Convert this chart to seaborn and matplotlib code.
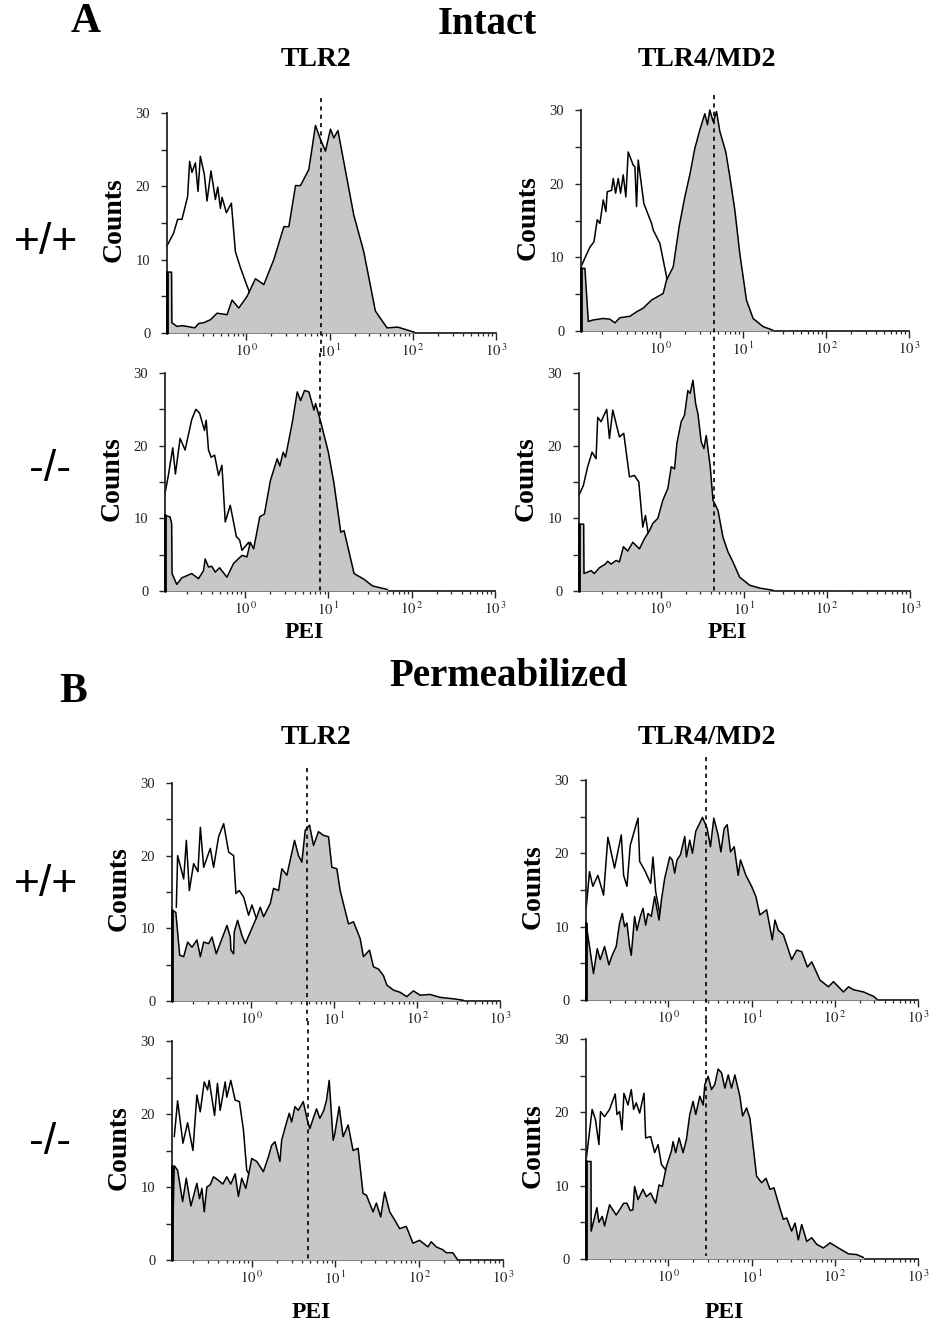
import numpy as np
import pandas as pd
import matplotlib
matplotlib.use("Agg")
import matplotlib.pyplot as plt
import matplotlib.transforms as mtransforms
from matplotlib.ticker import FixedLocator, FixedFormatter, LogLocator, NullFormatter
import seaborn as sns

sns.set_style("ticks")
plt.rcParams['font.family'] = ['Liberation Serif', 'DejaVu Serif']
plt.rcParams['mathtext.fontset'] = 'stix'
plt.rcParams['text.color'] = 'black'

# ---- data: log10(PEI) positions and counts ----
# A, intact, TLR2 +/+
int_tlr2_wt_ctrl_lx = [-0.96, -0.936, -0.876, -0.827, -0.775, -0.707, -0.683, -0.655, -0.614, -0.582, -0.554, -0.506, -0.474,
                       -0.426, -0.373, -0.345, -0.313, -0.293, -0.241, -0.181, -0.133, -0.072, 0.008, 0.09, 0.21, 0.33]
int_tlr2_wt_ctrl_ct = [11.8, 12.3, 13.6, 15.5, 15.5, 18.6, 23.4, 21.9, 23.2, 19.3, 24.1, 21.6, 18.0,
                       22.1, 18.2, 19.9, 17.0, 18.5, 16.4, 17.7, 11.1, 8.9, 6.4, 4.0, 1.5, 0.3]
int_tlr2_wt_pos_lx = [-0.955, -0.9, -0.896, -0.835, -0.775, -0.715, -0.62, -0.574, -0.514, -0.434, -0.353, -0.233, -0.173,
                      -0.092, 0.008, 0.108, 0.209, 0.329, 0.45, 0.51, 0.59, 0.65, 0.75, 0.83, 0.89, 0.95, 1.01, 1.05,
                      1.10, 1.29, 1.41, 1.55, 1.69, 1.82, 2.02]
int_tlr2_wt_pos_ct = [8.3, 8.3, 1.4, 0.9, 1.0, 0.9, 0.7, 1.3, 1.4, 1.8, 2.7, 2.5, 4.5,
                      3.4, 5.0, 7.4, 6.6, 10.0, 14.5, 14.5, 20.1, 20.1, 22.3, 28.3, 26.4, 24.8, 27.8, 26.6,
                      27.6, 16.1, 11.1, 3.0, 0.7, 0.8, 0.1]

# A, intact, TLR4/MD2 +/+
int_tlr4_wt_ctrl_lx = [-0.955, -0.908, -0.847, -0.799, -0.759, -0.727, -0.687, -0.655, -0.639, -0.586, -0.566, -0.538, -0.506,
                       -0.478, -0.446, -0.414, -0.386, -0.325, -0.305, -0.285, -0.265, -0.197, -0.104, -0.084, -0.004,
                       0.076, 0.157, 0.237]
int_tlr4_wt_ctrl_ct = [8.7, 9.9, 11.4, 12.1, 15.1, 14.6, 17.8, 16.2, 18.9, 19.1, 20.7, 18.7, 20.7,
                       18.7, 21.2, 18.2, 24.3, 22.5, 22.3, 16.9, 23.2, 17.3, 14.6, 13.7, 11.9,
                       7.4, 2.4, 0.1]
int_tlr4_wt_pos_lx = [-0.955, -0.908, -0.867, -0.807, -0.687, -0.606, -0.546, -0.486, -0.365, -0.285, -0.205, -0.104, 0.036,
                      0.076, 0.157, 0.229, 0.297, 0.357, 0.418, 0.478, 0.538, 0.570, 0.598, 0.639, 0.679, 0.719, 0.791,
                      0.839, 0.90, 0.96, 1.04, 1.12, 1.24, 1.36]
int_tlr4_wt_pos_ct = [8.5, 8.5, 1.3, 1.5, 1.7, 1.6, 1.1, 1.8, 2.0, 2.6, 3.1, 4.2, 5.1,
                      6.9, 8.7, 14.2, 18.2, 21.2, 24.8, 27.3, 29.5, 28.0, 30.0, 28.4, 29.8, 27.1, 24.3,
                      21.0, 16.4, 10.5, 4.2, 1.7, 0.6, 0.1]

# A, intact, TLR2 -/-
int_tlr2_ko_ctrl_lx = [-0.96, -0.92, -0.867, -0.835, -0.779, -0.719, -0.639, -0.59, -0.546, -0.486, -0.466, -0.438, -0.406,
                       -0.365, -0.317, -0.277, -0.237, -0.177, -0.104, -0.064, -0.036, 0.044, 0.104, 0.185, 0.265]
int_tlr2_ko_ctrl_ct = [13.4, 15.9, 19.7, 16.1, 21.0, 19.4, 23.6, 25.0, 24.5, 22.1, 23.5, 19.4, 18.4,
                       18.7, 15.9, 17.3, 9.5, 11.8, 7.5, 7.0, 5.6, 6.7, 4.7, 1.9, 0.1]
int_tlr2_ko_pos_lx = [-0.96, -0.90, -0.88, -0.875, -0.819, -0.759, -0.679, -0.639, -0.558, -0.498, -0.478, -0.438, -0.398,
                      -0.357, -0.305, -0.217, -0.137, -0.036, 0.024, 0.064, 0.104, 0.177, 0.233, 0.305, 0.386, 0.418,
                      0.458, 0.486, 0.566, 0.627, 0.667, 0.715, 0.767, 0.827, 0.847, 0.908, 1.0, 1.068, 1.149, 1.189,
                      1.309, 1.43, 1.53, 1.711]
int_tlr2_ko_pos_ct = [10.4, 10.2, 9.3, 2.4, 0.9, 1.8, 2.2, 2.4, 1.7, 2.8, 4.4, 3.3, 3.4,
                      2.6, 3.2, 1.9, 3.8, 4.9, 4.7, 6.7, 5.8, 10.2, 10.6, 15.2, 18.2, 17.2,
                      19.1, 18.4, 23.1, 27.4, 26.2, 27.6, 27.4, 24.9, 25.8, 23.3, 19.1, 14.8, 8.1, 8.3,
                      2.4, 1.6, 0.7, 0.2]

# A, intact, TLR4/MD2 -/-
int_tlr4_ko_ctrl_lx = [-0.98, -0.928, -0.876, -0.823, -0.775, -0.755, -0.715, -0.647, -0.614, -0.574, -0.494, -0.442, -0.373,
                       -0.313, -0.261, -0.213, -0.181, -0.141, -0.092, -0.032, 0.068, 0.189]
int_tlr4_ko_ctrl_ct = [13.2, 14.5, 17.1, 19.1, 18.2, 23.9, 23.3, 25.0, 21.0, 24.9, 21.2, 21.7, 15.7,
                       15.9, 15.0, 8.8, 10.4, 7.4, 8.8, 6.1, 2.8, 0.1]
int_tlr4_ko_pos_lx = [-0.98, -0.924, -0.92, -0.835, -0.795, -0.735, -0.663, -0.635, -0.594, -0.534, -0.494, -0.446, -0.394,
                      -0.333, -0.253, -0.193, -0.133, -0.092, -0.032, 0.028, 0.088, 0.129, 0.169, 0.197, 0.249, 0.289,
                      0.329, 0.357, 0.39, 0.422, 0.45, 0.49, 0.522, 0.55, 0.598, 0.631, 0.691, 0.751, 0.811, 0.871,
                      0.952, 1.072, 1.193, 1.353]
int_tlr4_ko_pos_ct = [9.2, 9.2, 2.4, 2.8, 2.4, 3.2, 3.7, 4.1, 3.7, 4.2, 4.0, 6.1, 5.5,
                      6.7, 5.8, 7.2, 8.3, 9.3, 10.0, 12.5, 14.1, 17.1, 16.8, 20.3, 23.3, 24.2,
                      27.6, 27.2, 29.0, 25.8, 24.4, 20.5, 19.6, 21.4, 17.1, 12.5, 11.1, 7.4, 5.4, 4.0,
                      1.9, 0.8, 0.4, 0.1]

# B, permeabilized, TLR2 +/+
perm_tlr2_wt_ctrl_lx = [-0.904, -0.888, -0.847, -0.815, -0.783, -0.747, -0.695, -0.643, -0.614, -0.574, -0.494, -0.454, -0.394,
                        -0.333, -0.273, -0.213, -0.185, -0.145, -0.092, -0.032, 0.008, 0.048, 0.108, 0.189, 0.269, 0.349]
perm_tlr2_wt_ctrl_ct = [12.9, 20.0, 18.2, 16.8, 22.1, 15.2, 18.9, 17.8, 23.9, 18.4, 21.0, 18.4, 22.6,
                        24.4, 20.5, 20.0, 14.8, 15.2, 14.3, 11.8, 13.2, 11.8, 10.2, 6.5, 1.9, 0.3]
perm_tlr2_wt_pos_lx = [-0.956, -0.91, -0.863, -0.815, -0.767, -0.715, -0.655, -0.614, -0.574, -0.514, -0.474, -0.422, -0.293,
                       -0.253, -0.245, -0.213, -0.205, -0.165, -0.112, -0.072, 0.008, 0.068, 0.108, 0.149, 0.229, 0.269,
                       0.329, 0.369, 0.43, 0.47, 0.522, 0.57, 0.61, 0.651, 0.703, 0.751, 0.811, 0.871, 0.932, 0.972,
                       1.032, 1.072, 1.173, 1.233, 1.313, 1.353, 1.426, 1.474, 1.534, 1.594, 1.635, 1.715, 1.795, 1.876,
                       1.956, 2.036, 2.157, 2.277, 2.438, 2.558]
perm_tlr2_wt_pos_ct = [12.5, 12.2, 6.3, 6.1, 8.1, 7.4, 8.4, 6.1, 8.1, 7.9, 8.8, 6.5, 10.4,
                       8.8, 7.0, 6.5, 9.5, 11.1, 9.0, 7.9, 10.0, 11.6, 12.9, 11.6, 13.4, 15.5,
                       15.2, 18.2, 17.3, 19.4, 22.1, 20.0, 19.1, 23.5, 24.2, 21.4, 23.3, 22.8, 22.6, 18.4,
                       18.2, 15.2, 10.6, 10.9, 8.6, 6.1, 7.0, 4.7, 4.4, 3.5, 2.2, 1.5, 1.2, 0.6,
                       1.4, 0.8, 0.9, 0.5, 0.3, 0.1]

# B, permeabilized, TLR4/MD2 +/+
perm_tlr4_wt_ctrl_lx = [-0.988, -0.948, -0.908, -0.847, -0.779, -0.727, -0.647, -0.566, -0.538, -0.498, -0.458, -0.365, -0.345,
                        -0.285, -0.213, -0.185, -0.153, -0.104, -0.056, -0.024, 0.036, 0.096, 0.177]
perm_tlr4_wt_ctrl_ct = [12.5, 17.5, 15.5, 17.0, 14.3, 22.2, 18.0, 22.5, 17.0, 15.5, 21.1, 24.8, 18.9,
                        17.7, 15.9, 19.5, 14.8, 11.8, 13.6, 11.4, 7.3, 3.6, 0.2]
perm_tlr4_wt_pos_lx = [-0.99, -0.948, -0.9, -0.855, -0.819, -0.767, -0.715, -0.675, -0.627, -0.586, -0.554, -0.526, -0.498,
                       -0.466, -0.446, -0.406, -0.378, -0.337, -0.305, -0.273, -0.245, -0.205, -0.165, -0.112, -0.084,
                       -0.044, 0.016, 0.048, 0.076, 0.104, 0.145, 0.197, 0.217, 0.257, 0.289, 0.329, 0.41, 0.466, 0.506,
                       0.546, 0.598, 0.631, 0.671, 0.707, 0.747, 0.791, 0.839, 0.867, 0.932, 1.0, 1.052, 1.1, 1.181,
                       1.249, 1.281, 1.321, 1.382, 1.482, 1.542, 1.602, 1.671, 1.723, 1.823, 1.924, 1.984, 2.104, 2.165,
                       2.225, 2.345, 2.466, 2.506]
perm_tlr4_wt_pos_ct = [10.5, 7.3, 3.6, 7.0, 5.5, 7.3, 4.8, 6.1, 7.3, 10.5, 11.8, 10.0, 10.5,
                       7.3, 6.1, 11.4, 9.5, 11.4, 12.5, 10.2, 11.8, 11.4, 14.1, 10.9, 13.6,
                       16.6, 19.5, 19.1, 17.3, 19.1, 19.8, 22.3, 19.5, 21.8, 20.0, 23.0, 24.9, 23.4, 20.9,
                       24.8, 22.5, 20.2, 23.4, 23.9, 20.2, 20.9, 17.0, 19.1, 17.0, 15.5, 14.1, 11.6, 12.3,
                       8.2, 10.9, 9.5, 8.9, 5.5, 6.8, 6.6, 4.5, 5.2, 2.7, 1.8, 2.5, 1.1, 1.8,
                       1.4, 1.1, 0.5, 0.1]

# B, permeabilized, TLR2 -/-
perm_tlr2_ko_ctrl_lx = [-0.925, -0.885, -0.821, -0.766, -0.702, -0.655, -0.615, -0.567, -0.528, -0.508, -0.444, -0.409, -0.377,
                        -0.317, -0.298, -0.25, -0.198, -0.147, -0.099, -0.06, 0.0, 0.06, 0.139, 0.218]
perm_tlr2_ko_ctrl_ct = [16.9, 21.8, 16.0, 18.8, 15.0, 22.6, 20.3, 24.4, 23.3, 24.6, 19.8, 24.2, 20.5,
                        24.4, 22.3, 24.6, 21.9, 21.7, 17.8, 12.3, 11.2, 7.8, 3.2, 0.2]
perm_tlr2_ko_pos_lx = [-0.952, -0.925, -0.885, -0.825, -0.782, -0.726, -0.655, -0.623, -0.595, -0.567, -0.536, -0.496, -0.456,
                       -0.397, -0.345, -0.298, -0.25, -0.198, -0.159, -0.119, -0.071, 0.0, 0.06, 0.139, 0.198, 0.238,
                       0.278, 0.337, 0.357, 0.417, 0.448, 0.476, 0.516, 0.556, 0.615, 0.663, 0.694, 0.734, 0.774, 0.813,
                       0.861, 0.893, 0.925, 0.972, 0.992, 1.044, 1.091, 1.151, 1.21, 1.27, 1.329, 1.369, 1.448, 1.488,
                       1.54, 1.587, 1.647, 1.706, 1.766, 1.845, 1.925, 2.004, 2.103, 2.143, 2.202, 2.282, 2.321, 2.401,
                       2.46]
perm_tlr2_ko_pos_ct = [0.0, 12.9, 12.3, 8.0, 11.2, 7.4, 10.5, 8.4, 9.8, 6.6, 10.0, 10.3, 11.4,
                       10.9, 10.4, 11.4, 10.4, 11.8, 8.7, 11.2, 9.8, 13.9, 13.5, 12.1, 14.1, 15.7,
                       16.2, 13.5, 16.4, 18.9, 20.1, 18.9, 21.0, 20.5, 21.7, 19.2, 18.0, 19.4, 20.7, 19.4,
                       20.5, 21.9, 24.6, 16.4, 17.3, 21.0, 16.9, 18.5, 15.0, 15.3, 9.1, 8.9, 6.6, 7.8,
                       5.9, 9.3, 6.6, 5.5, 4.3, 4.6, 2.3, 2.7, 1.8, 2.5, 1.8, 1.4, 1.0, 1.0,
                       0.0]

# B, permeabilized, TLR4/MD2 -/-
perm_tlr4_ko_ctrl_lx = [-0.99, -0.916, -0.876, -0.835, -0.815, -0.767, -0.707, -0.639, -0.618, -0.586, -0.558, -0.534, -0.486,
                        -0.446, -0.418, -0.386, -0.345, -0.293, -0.273, -0.213, -0.165, -0.124, -0.084, -0.024, 0.036,
                        0.116, 0.197, 0.277]
perm_tlr4_ko_ctrl_ct = [13.3, 20.4, 19.0, 15.6, 20.1, 19.4, 20.4, 22.5, 19.7, 20.1, 17.6, 22.6, 21.0,
                        23.1, 20.4, 21.3, 19.9, 22.6, 16.5, 16.7, 14.5, 15.6, 12.9, 12.0, 9.9,
                        5.8, 2.2, 0.1]
perm_tlr4_ko_pos_lx = [-0.99, -0.93, -0.928, -0.9, -0.859, -0.835, -0.795, -0.767, -0.707, -0.667, -0.627, -0.586, -0.538,
                       -0.498, -0.458, -0.426, -0.406, -0.365, -0.305, -0.265, -0.213, -0.153, -0.112, -0.072, -0.024,
                       0.036, 0.056, 0.088, 0.129, 0.177, 0.217, 0.257, 0.297, 0.329, 0.378, 0.418, 0.438, 0.478, 0.518,
                       0.558, 0.598, 0.639, 0.679, 0.719, 0.759, 0.799, 0.859, 0.892, 0.94, 0.98, 1.06, 1.12, 1.173,
                       1.221, 1.269, 1.333, 1.382, 1.422, 1.482, 1.522, 1.562, 1.602, 1.663, 1.723, 1.783, 1.863, 1.944,
                       2.044, 2.165, 2.265, 2.345]
perm_tlr4_ko_pos_ct = [13.3, 13.3, 3.8, 5.1, 7.0, 5.0, 5.8, 4.5, 7.4, 6.7, 6.0, 6.7, 7.6,
                       7.6, 6.6, 6.7, 9.9, 8.1, 9.5, 8.5, 9.0, 7.6, 10.1, 9.9, 12.6,
                       14.7, 16.0, 14.5, 16.5, 14.5, 16.3, 19.7, 21.5, 19.7, 22.2, 21.0, 23.8, 24.9, 23.1,
                       23.8, 25.9, 25.4, 23.3, 25.1, 23.3, 25.1, 22.2, 19.5, 20.6, 19.2, 11.3, 10.4, 11.0,
                       9.5, 9.7, 7.2, 5.4, 5.6, 3.8, 4.9, 2.6, 4.7, 2.4, 2.9, 2.0, 1.5, 2.2,
                       1.5, 0.7, 0.6, 0.2]

# log10 position of the dashed marker line for each column
marker_lx = {"int_tlr2": 0.90, "int_tlr4": 0.645, "perm_tlr2": 0.675, "perm_tlr4": 0.458}

y_ticks = [0, 10, 20, 30]
x_ticks = [1, 10, 100, 1000]
x_tick_labels = [r"$10^{\,0}$", r"$10^{\,1}$", r"$10^{\,2}$", r"$10^{\,3}$"]

W, H = 930, 1325
GRAY = "#c6c7c9"
TICK_GRAY = "#222222"

# (column key, box in px: left, right, top, bottom, log10 x min, series, dashed span in px)
panels = [
    ("int_tlr2", (167, 496, 113, 333), -0.955, int_tlr2_wt_ctrl_lx, int_tlr2_wt_ctrl_ct, int_tlr2_wt_pos_lx, int_tlr2_wt_pos_ct, (98, 353)),
    ("int_tlr4", (581, 909, 110, 331), -0.955, int_tlr4_wt_ctrl_lx, int_tlr4_wt_ctrl_ct, int_tlr4_wt_pos_lx, int_tlr4_wt_pos_ct, (95, 353)),
    ("int_tlr2", (165, 495, 373, 591), -0.96, int_tlr2_ko_ctrl_lx, int_tlr2_ko_ctrl_ct, int_tlr2_ko_pos_lx, int_tlr2_ko_pos_ct, (353, 591)),
    ("int_tlr4", (579, 910, 373, 591), -0.98, int_tlr4_ko_ctrl_lx, int_tlr4_ko_ctrl_ct, int_tlr4_ko_pos_lx, int_tlr4_ko_pos_ct, (353, 591)),
    ("perm_tlr2", (172, 500, 783, 1001), -0.956, perm_tlr2_wt_ctrl_lx, perm_tlr2_wt_ctrl_ct, perm_tlr2_wt_pos_lx, perm_tlr2_wt_pos_ct, (768, 1021)),
    ("perm_tlr4", (586, 918, 780, 1000), -0.99, perm_tlr4_wt_ctrl_lx, perm_tlr4_wt_ctrl_ct, perm_tlr4_wt_pos_lx, perm_tlr4_wt_pos_ct, (757, 1020)),
    ("perm_tlr2", (172, 503, 1041, 1260), -0.952, perm_tlr2_ko_ctrl_lx, perm_tlr2_ko_ctrl_ct, perm_tlr2_ko_pos_lx, perm_tlr2_ko_pos_ct, (1021, 1261)),
    ("perm_tlr4", (586, 918, 1039, 1259), -0.99, perm_tlr4_ko_ctrl_lx, perm_tlr4_ko_ctrl_ct, perm_tlr4_ko_pos_lx, perm_tlr4_ko_pos_ct, (1020, 1256)),
]

fig = plt.figure(figsize=(W / 100, H / 100), dpi=100)

for key, (L, R, T, B), xmin, c_lx, c_ct, p_lx, p_ct, (dy0, dy1) in panels:
    ax = fig.add_axes([L / W, 1 - B / H, (R - L) / W, (B - T) / H])
    ax.set_xscale("log")

    ctrl = pd.DataFrame({"PEI": 10 ** np.array(c_lx), "Counts": c_ct})
    pos = pd.DataFrame({"PEI": 10 ** np.array(p_lx), "Counts": p_ct})

    sns.lineplot(data=ctrl, x="PEI", y="Counts", ax=ax, sort=False, estimator=None,
                 color="black", lw=1.1, zorder=2, clip_on=False)
    ax.fill_between(pos["PEI"], 0, pos["Counts"], color=GRAY, lw=0, zorder=3)
    sns.lineplot(data=pos, x="PEI", y="Counts", ax=ax, sort=False, estimator=None,
                 color="black", lw=1.1, zorder=4, clip_on=False)
    # dark edge of the first (off-scale) channel
    ax.plot([10 ** p_lx[0], 10 ** p_lx[0]], [0, p_ct[0] if p_ct[0] > 0 else p_ct[1]],
            color="black", lw=2.0, zorder=5, clip_on=False)

    # dashed marker running across the column
    trans = mtransforms.blended_transform_factory(ax.transData, fig.transFigure)
    mx = 10 ** marker_lx[key]
    ax.plot([mx, mx], [1 - dy0 / H, 1 - dy1 / H], transform=trans, color="black",
            lw=1.2, ls=(0, (2.5, 2.5)), zorder=6, clip_on=False)

    ax.set_xlim(10 ** xmin, 1000)
    ax.set_ylim(0, 30)
    ax.set_xlabel("")
    ax.set_ylabel("")

    ax.xaxis.set_major_locator(FixedLocator(x_ticks))
    ax.xaxis.set_major_formatter(FixedFormatter(x_tick_labels))
    ax.xaxis.set_minor_locator(LogLocator(base=10, subs=np.arange(2, 10)))
    ax.xaxis.set_minor_formatter(NullFormatter())
    ax.yaxis.set_major_locator(FixedLocator(y_ticks))
    ax.yaxis.set_minor_locator(FixedLocator([5, 15, 25]))

    ax.tick_params(axis="x", which="major", direction="out", length=5, width=1, labelsize=10.5,
                   pad=2, labelcolor=TICK_GRAY)
    ax.tick_params(axis="x", which="minor", direction="out", length=2.5, width=0.9)
    ax.tick_params(axis="y", which="both", direction="out", length=4, width=1, labelsize=10.5,
                   pad=8, labelcolor=TICK_GRAY)

    for side in ["top", "right"]:
        ax.spines[side].set_visible(False)
    ax.spines["left"].set_linewidth(1.3)
    ax.spines["bottom"].set_linewidth(1.3)
    ax.patch.set_alpha(0)

    fig.text((L - 53) / W, 1 - ((T + B) / 2 - 3) / H, "Counts", rotation=90, ha="center", va="center",
             fontsize=20, fontweight="bold")


def ftext(x, y, s, **kw):
    fig.text(x / W, 1 - y / H, s, ha="center", va="center", **kw)


sans = ["Liberation Sans", "DejaVu Sans"]
ftext(487, 25, "Intact", fontsize=28, fontweight="bold")
ftext(86, 22, "A", fontsize=30, fontweight="bold")
ftext(316, 59, "TLR2", fontsize=20, fontweight="bold")
ftext(707, 59, "TLR4/MD2", fontsize=20, fontweight="bold")
ftext(46, 243, "+/+", fontsize=32, family=sans)
ftext(50, 470, "-/-", fontsize=32, family=sans)
ftext(304, 632, "PEI", fontsize=17, fontweight="bold")
ftext(727, 632, "PEI", fontsize=17, fontweight="bold")

ftext(508, 676, "Permeabilized", fontsize=28, fontweight="bold")
ftext(73, 692, "B", fontsize=30, fontweight="bold")
ftext(316, 737, "TLR2", fontsize=20, fontweight="bold")
ftext(707, 737, "TLR4/MD2", fontsize=20, fontweight="bold")
ftext(46, 884, "+/+", fontsize=32, family=sans)
ftext(50, 1143, "-/-", fontsize=32, family=sans)
ftext(311, 1313, "PEI", fontsize=17, fontweight="bold")
ftext(724, 1313, "PEI", fontsize=17, fontweight="bold")

fig.savefig("out.png", dpi=100, facecolor="white")
